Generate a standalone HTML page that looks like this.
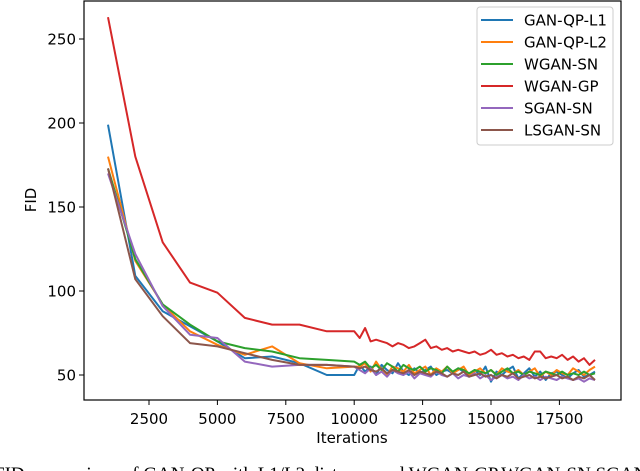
<!DOCTYPE html>
<html><head><meta charset="utf-8">
<style>
html,body{margin:0;padding:0;background:#fff;width:640px;height:471px;overflow:hidden}
svg{display:block}
text{font-family:"DejaVu Sans","Liberation Sans",sans-serif}
</style></head>
<body>
<svg id="chart" width="640" height="471" viewBox="0 0 640 471" xmlns="http://www.w3.org/2000/svg"></svg>
<script>
const xTicks=[2500,5000,7500,10000,12500,15000,17500];
const yTicks=[50,100,150,200,250];
const seriesNames=["GAN-QP-L1","GAN-QP-L2","WGAN-SN","WGAN-GP","SGAN-SN","LSGAN-SN"];
const seriesColors=["#1f77b4","#ff7f0e","#2ca02c","#d62728","#9467bd","#8c564b"];
const coarseIters=[1000,2000,3000,4000,5000,6000,7000,8000,9000,10000];
const l1Head=[199,109,88,79,70,60,61,57,50,50];
const l2Head=[180,118,92,76,68,62,67,57,54,55];
const wsnHead=[173,119,92,80,70,66,64,60,59,58];
const wgpHead=[263,180,129,105,99,84,80,80,76,76];
const sganHead=[170,122,91,74,72,58,55,56,56,55];
const lsganHead=[173,107,85,69,67,63,59,56,56,55];
const fineStart=10200, fineStep=200;
const wgpTail=[72,78,70,71,70,69,67,69,68,66,67,69,71,66,67,65,66,64,65,64,63,64,62,63,65,62,63,61,62,60,61,59,64,64,60,61,60,62,59,61,58,60,56,59];
const l1Tail=[56,52,55,50,56,53,51,57,52,50,54,51,53,55,50,52,53,51,54,52,49,53,50,55,46,52,50,53,55,48,51,54,49,52,47,51,52,50,48,51,53,49,50,52];
const l2Tail=[55,57,52,58,53,50,55,54,52,56,51,53,55,50,54,52,55,51,53,55,50,52,54,51,53,50,54,52,51,53,50,52,54,49,52,50,53,51,50,54,52,50,53,55];
const wsnTail=[56,58,54,56,53,57,55,52,56,54,53,55,52,54,53,51,55,52,54,53,51,53,52,51,53,50,52,54,51,52,50,52,51,50,52,51,50,52,50,51,50,52,50,51];
const sganTail=[53,51,54,50,52,49,53,51,50,52,48,51,50,49,52,50,49,51,48,50,49,51,48,50,47,49,50,48,49,47,50,48,49,47,49,48,47,49,48,47,48,46,48,47];
const lsganTail=[54,55,53,52,54,51,53,52,51,53,50,52,51,50,52,51,49,51,50,52,49,50,51,49,50,48,50,49,51,48,49,50,48,49,48,49,50,48,49,47,49,48,50,47];

const heads=[l1Head,l2Head,wsnHead,wgpHead,sganHead,lsganHead];
const tails=[l1Tail,l2Tail,wsnTail,wgpTail,sganTail,lsganTail];
const L=84,R=621,T=1,B=400;
const X=v=>149+(v-2500)*(68.4/2500);
const Y=v=>375-(v-50)*1.68;
const NS="http://www.w3.org/2000/svg";
const svg=document.getElementById('chart');
function mk(tag,attrs,parent){const e=document.createElementNS(NS,tag);for(const k in attrs)e.setAttribute(k,attrs[k]);(parent||svg).appendChild(e);return e;}

const plot=mk('g',{});



seriesNames.forEach((n,i)=>{
  const pts=[];
  coarseIters.forEach((it,j)=>pts.push(X(it).toFixed(1)+','+Y(heads[i][j]).toFixed(1)));
  tails[i].forEach((v,j)=>pts.push(X(fineStart+j*fineStep).toFixed(1)+','+Y(v).toFixed(1)));
  const p=mk('polyline',{points:pts.join(' '),fill:'none',stroke:seriesColors[i],'stroke-width':2,'stroke-linejoin':'round'},plot);
  
  
});

const frame=mk('rect',{x:L,y:T,width:R-L,height:B-T,fill:'none',stroke:'#000','stroke-width':1.2});



xTicks.forEach(v=>{
  const x=X(v);
  mk('line',{x1:x,y1:B,x2:x,y2:B+5,stroke:'#000','stroke-width':1});
  const t=mk('text',{x:x,y:424,'font-size':15,'text-anchor':'middle',fill:'#000'});
  t.textContent=v;
  
  
});
yTicks.forEach(v=>{
  const y=Y(v);
  mk('line',{x1:L-5,y1:y,x2:L,y2:y,stroke:'#000','stroke-width':1});
  const t=mk('text',{x:L-8,y:y+5.5,'font-size':15,'text-anchor':'end',fill:'#000'});
  t.textContent=v;
  
  
});
const xt=mk('text',{x:352,y:443,'font-size':15,'text-anchor':'middle',fill:'#000'});
xt.textContent='Iterations';


const yt=mk('text',{x:0,y:0,'font-size':15,'text-anchor':'middle',fill:'#000',transform:'translate(36,200) rotate(-90)'});
yt.textContent='FID';



const lg=mk('g',{});


mk('rect',{x:477,y:7,width:136,height:138,rx:3,fill:'#fff','fill-opacity':0.85,stroke:'#ccc','stroke-width':1},lg);
seriesNames.forEach((n,i)=>{
  const y=20+i*22;
  const g=mk('g',{},lg);
  
  
  mk('line',{x1:481,y1:y,x2:513,y2:y,stroke:seriesColors[i],'stroke-width':2},g);
  const t=mk('text',{x:524,y:y+5.5,'font-size':15,fill:'#000'},g);
  t.textContent=n;
});

const cap=mk('text',{x:-6,y:480,fill:'#000',style:'font-family:"Liberation Serif",serif;font-size:19px'});
cap.textContent='FID comparison of GAN-QP with L1/L2 distance and WGAN-GP,WGAN-SN,SGAN-SN,LSGAN-SN.';


</script>
</body></html>
